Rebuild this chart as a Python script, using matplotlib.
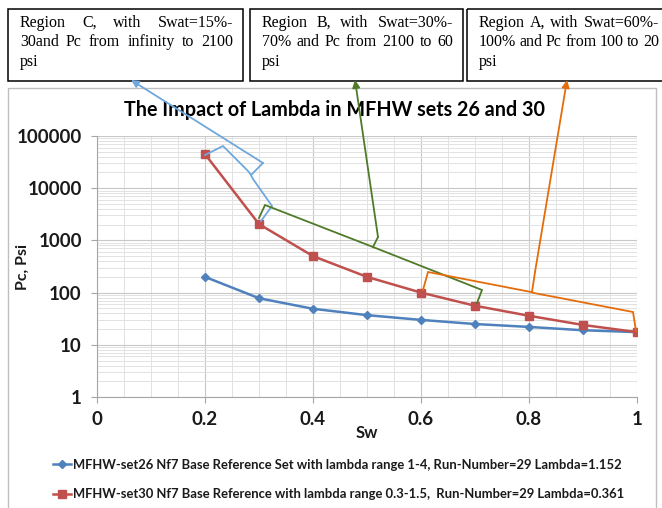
import matplotlib
matplotlib.use('Agg')
import matplotlib.pyplot as plt
from matplotlib.patches import Rectangle
from matplotlib.lines import Line2D
from matplotlib.ticker import MultipleLocator, LogLocator, NullFormatter, FixedLocator

# ---- data ----
sw = [0.2, 0.3, 0.4, 0.5, 0.6, 0.7, 0.8, 0.9, 1.0]
pc_set26 = [200, 78, 49, 37, 30, 25, 22, 19, 17.5]
pc_set30 = [45000, 2050, 500, 200, 100, 56, 36, 24, 17.5]

label_set26 = 'MFHW-set26 Nf7 Base Reference Set with lambda range 1-4, Run-Number=29 Lambda=1.152'
label_set30 = 'MFHW-set30 Nf7 Base Reference with lambda range 0.3-1.5,  Run-Number=29 Lambda=0.361'

x_ticks = [0, 0.2, 0.4, 0.6, 0.8, 1.0]
x_tick_labels = ['0', '0.2', '0.4', '0.6', '0.8', '1']
y_ticks = [1, 10, 100, 1000, 10000, 100000]
y_tick_labels = ['1', '10', '100', '1000', '10000', '100000']

title = 'The Impact of Lambda in MFHW sets 26 and 30'

region_c = ['Region C, with Swat=15%-', '30and Pc from infinity to 2100', 'psi']
region_b = ['Region B, with Swat=30%-', '70% and Pc from 2100 to 60', 'psi']
region_a = ['Region A, with Swat=60%-', '100% and Pc from 100 to 20', 'psi']

# ---- style ----
W, H = 662, 508
BLUE = '#4F81BD'
RED = '#C0504D'
C_BLUE = '#6FA8DC'
C_GREEN = '#4F7A28'
C_ORANGE = '#E46C0A'
GRID_MAJOR = '#C8C8C8'
GRID_MINOR = '#E2E2E2'
TEXT = '#1A1A1A'
CHART_FONT = 'Lato'
BOX_FONT = 'Liberation Serif'

fig = plt.figure(figsize=(W / 100, H / 100), dpi=100)
fig.patch.set_facecolor('white')

# plot area in pixels: x 97..637, y 136..397
ax = fig.add_axes([97 / W, 1 - 397 / H, 540 / W, 261 / H])
ax.set_yscale('log')
ax.set_xlim(0, 1)
ax.set_ylim(1, 100000)

ax.plot(sw, pc_set26, color=BLUE, lw=1.8, marker='D', ms=4.5, label=label_set26, zorder=3)
ax.plot(sw, pc_set30, color=RED, lw=1.8, marker='s', ms=6, label=label_set30, zorder=3)

ax.xaxis.set_major_locator(FixedLocator(x_ticks))
ax.set_xticklabels(x_tick_labels)
ax.xaxis.set_minor_locator(MultipleLocator(0.05))
ax.yaxis.set_major_locator(FixedLocator(y_ticks))
ax.set_yticklabels(y_tick_labels)
ax.yaxis.set_minor_locator(LogLocator(base=10, subs=range(2, 10)))
ax.yaxis.set_minor_formatter(NullFormatter())

ax.grid(which='major', color=GRID_MAJOR, lw=0.8)
ax.grid(which='minor', color=GRID_MINOR, lw=0.7)
ax.set_axisbelow(True)

for s in ['top', 'right']:
    ax.spines[s].set_visible(False)
for s in ['left', 'bottom']:
    ax.spines[s].set_color('#A6A6A6')
    ax.spines[s].set_linewidth(0.8)

ax.tick_params(which='major', length=4, color='#A6A6A6', labelcolor=TEXT, labelsize=13.5)
ax.tick_params(axis='y', which='major', pad=7)
ax.tick_params(axis='x', which='major', pad=6)
ax.tick_params(which='minor', length=0)
for lab in ax.get_xticklabels() + ax.get_yticklabels():
    lab.set_fontweight('bold')
    lab.set_family(CHART_FONT)

ax.set_xlabel('Sw', fontsize=12, fontweight='bold', family=CHART_FONT, color=TEXT, va='center')
ax.xaxis.set_label_coords(0.5, (397 - 433) / 261)
ax.set_ylabel('Pc, Psi', fontsize=11.5, fontweight='bold', family=CHART_FONT, color=TEXT, va='center')
ax.yaxis.set_label_coords((23 - 97) / 540, 0.5)

# legend below the plot
leg = fig.legend(
    loc='upper left',
    bbox_to_anchor=(46 / W, 1 - 452 / H),
    frameon=False,
    prop={'family': CHART_FONT, 'weight': 'bold', 'size': 9.4},
    handlelength=1.45,
    handletextpad=0.08,
    labelspacing=1.35,
    borderpad=0,
    markerscale=0.85,
)
for t in leg.get_texts():
    t.set_color(TEXT)

# ---- overlay in pixel coordinates for boxes and callouts ----
ov = fig.add_axes([0, 0, 1, 1], zorder=5)
ov.set_xlim(0, W)
ov.set_ylim(H, 0)
ov.axis('off')
ov.patch.set_visible(False)

# chart area frame
ov.add_patch(Rectangle((8, 88), 648, 440, fill=False, ec='#BFBFBF', lw=1, clip_on=False))

ov.text(334, 110, title, ha='center', va='center', fontsize=14.2,
        fontweight='bold', family=CHART_FONT, color='black')

renderer = fig.canvas.get_renderer()


def justify(lines, x0, x1, y0, dy):
    for i, line in enumerate(lines):
        y = y0 + i * dy
        words = line.split()
        texts = [ov.text(0, y, w, ha='left', va='center', fontsize=11.5,
                         family=BOX_FONT, color='black', clip_on=False) for w in words]
        if i == len(lines) - 1 or len(words) == 1:
            texts[0].set_x(x0)
            continue
        widths = [t.get_window_extent(renderer).width for t in texts]
        gap = (x1 - x0 - sum(widths)) / (len(words) - 1)
        x = x0
        for t, w in zip(texts, widths):
            t.set_x(x)
            x += w + gap


for bx0, bx1, lines in [(8, 243, region_c), (250, 463, region_b), (467, 700, region_a)]:
    ov.add_patch(Rectangle((bx0, 8.5), bx1 - bx0, 72, fill=False, ec='black', lw=1.1, clip_on=False))
    tx1 = min(bx1 - 10, 659)
    justify(lines, bx0 + 12, tx1, 23, 19.5)


def path(pts, color):
    xs, ys = zip(*pts)
    ov.add_line(Line2D(xs, ys, color=color, lw=1.3, solid_joinstyle='miter'))


def arrow(start, end, color):
    ov.annotate('', xy=end, xytext=start,
                arrowprops=dict(arrowstyle='-|>', color=color, lw=1.3,
                                mutation_scale=11, shrinkA=0, shrinkB=0))


# Region C brace (light blue)
path([(205, 155), (223, 146), (248, 171), (251, 175), (253, 179), (272, 206), (261, 221)], C_BLUE)
path([(251, 175), (263, 163)], C_BLUE)
arrow((263, 163), (131, 80), C_BLUE)

# Region B brace (green)
path([(259, 218), (265, 205), (373, 247), (482, 290), (477, 303)], C_GREEN)
path([(373, 247), (378, 237)], C_GREEN)
arrow((378, 237), (355, 80), C_GREEN)

# Region A brace (orange)
path([(423, 290), (428, 272), (531, 292), (534, 293), (633, 312), (636, 331)], C_ORANGE)
path([(532, 292), (535, 272)], C_ORANGE)
arrow((535, 272), (567, 80), C_ORANGE)

fig.savefig('out.png', dpi=100, facecolor='white')
